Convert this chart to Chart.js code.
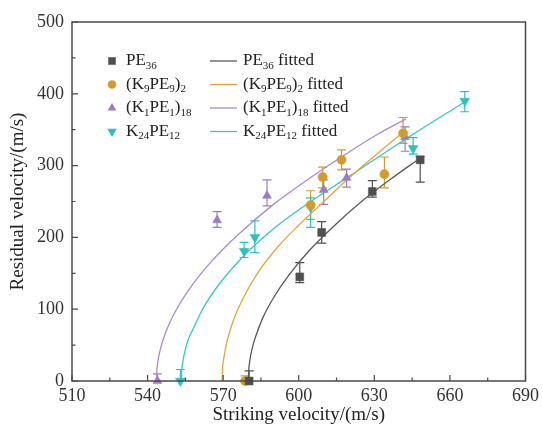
<!DOCTYPE html>
<html>
<head>
<meta charset="utf-8">
<script src="https://cdn.jsdelivr.net/npm/chart.js@4.4.1/dist/chart.umd.min.js"></script>
<style>
  html, body { margin: 0; padding: 0; background: #fff; }
  #wrap { width: 543px; height: 428px; }
</style>
</head>
<body>
<div id="wrap"><canvas id="chart" width="543" height="428"></canvas></div>
<script>
// --- Axis ticks ---
const xTicks = [510, 540, 570, 600, 630, 660, 690];
const xMinor = [525, 555, 585, 615, 645, 675];
const yTicks = [0, 100, 200, 300, 400, 500];
const yMinor = [50, 150, 250, 350, 450];

// --- Series names (_{..} = subscript) ---
const seriesNames = ['PE_{36}', '(K_{9}PE_{9})_{2}', '(K_{1}PE_{1})_{18}', 'K_{24}PE_{12}'];

// --- Measured points ---
const pe36X = [580.3, 600.4, 609.1, 629.2, 648.2];
const pe36Y = [0, 145, 207, 264, 308];
const pe36Up = [14, 20, 15, 15, 5];
const pe36Down = [14, 8, 15, 8, 31];

const k9X = [578.7, 604.7, 609.5, 617, 634, 641.4];
const k9Y = [0, 245, 284, 308, 288, 345];
const k9Up = [7, 20, 14, 14, 24, 22];
const k9Down = [7, 20, 15, 14, 19, 14];

const k1X = [543.9, 567.6, 587.4, 609.9, 619, 642.2];
const k1Y = [0, 224, 258, 266, 283, 340];
const k1Up = [10, 12, 22, 14, 12, 14];
const k1Down = [10, 10, 14, 20, 13, 20];

const k24X = [553, 578.3, 582.6, 604.7, 645.4, 665.9];
const k24Y = [0, 181, 200, 242, 324, 390];
const k24Up = [16, 12, 23, 13, 15, 13];
const k24Down = [16, 9, 21, 28, 8, 15];

// --- Fitted curves ---
const pe36FitX = [580, 580.1, 580.5, 581, 582, 583, 586, 590, 596, 604, 614, 626, 638, 648];
const pe36FitY = [0, 12, 26, 37, 52, 63, 90, 116, 147, 181, 216, 253, 285, 310];

const k9FitX = [569.6, 569.7, 570.1, 571, 572.3, 574, 578, 584, 592, 600, 610, 620, 632, 642];
const k9FitY = [0, 13, 28, 47, 65, 84, 116, 152, 188, 217, 250, 283, 319, 348];

const k1FitX = [543.5, 543.6, 544, 544.5, 545, 546, 548, 552, 558, 566, 576, 590, 605, 620, 632, 642.6];
const k1FitY = [0, 11, 25, 35, 43, 56, 75, 103, 135, 169, 204, 246, 284, 319, 345, 365];

const k24FitX = [553.4, 553.5, 554, 555, 556, 558, 562, 568, 577, 590, 604, 620, 642, 666];
const k24FitY = [0, 11, 27, 44, 56, 72, 101, 133, 170, 212, 248, 285, 336, 389];

// --- Styles ---
const markColors = ['#4f4f4f', '#d29b2e', '#9a7cc2', '#2cc0c0'];
const lineColors = ['#5a5a5a', '#e0a63c', '#a88bd2', '#35c6c6'];
const markStyles = ['rect', 'circle', 'triangle', 'triangle'];
const markRot = [0, 0, 0, 180];
const markRadius = [5.6, 4.6, 5.2, 5.6];
const serif = "'Liberation Serif', 'DejaVu Serif', serif";

const zip = (xs, ys) => xs.map((x, i) => ({ x: x, y: ys[i] }));

const pointSets = [
    { xs: pe36X, ys: pe36Y, up: pe36Up, down: pe36Down },
    { xs: k9X, ys: k9Y, up: k9Up, down: k9Down },
    { xs: k1X, ys: k1Y, up: k1Up, down: k1Down },
    { xs: k24X, ys: k24Y, up: k24Up, down: k24Down }
];
const fitSets = [
    zip(pe36FitX, pe36FitY),
    zip(k9FitX, k9FitY),
    zip(k1FitX, k1FitY),
    zip(k24FitX, k24FitY)
];

const datasets = [];
pointSets.forEach((s, i) => {
    datasets.push({
        label: seriesNames[i],
        data: zip(s.xs, s.ys),
        pointStyle: markStyles[i],
        rotation: markRot[i],
        pointRadius: markRadius[i],
        backgroundColor: markColors[i],
        borderColor: markColors[i],
        pointBorderWidth: 0.5,
        clip: false,
        errUp: s.up,
        errDown: s.down
    });
});
fitSets.forEach((d, i) => {
    datasets.push({
        label: seriesNames[i] + ' fitted',
        type: 'line',
        data: d,
        showLine: true,
        borderColor: lineColors[i],
        borderWidth: 1.3,
        pointRadius: 0,
        cubicInterpolationMode: 'monotone',
        fill: false
    });
});

// draw text with _{..} subscripts
function drawRich(ctx, str, x, y, size) {
    const parts = str.split(/(_\{[^}]*\})/).filter(p => p.length);
    let cx = x;
    parts.forEach(p => {
        if (p.startsWith('_{')) {
            const t = p.slice(2, -1);
            ctx.font = Math.round(size * 0.64) + 'px ' + serif;
            ctx.fillText(t, cx, y + size * 0.3);
            cx += ctx.measureText(t).width;
        } else {
            ctx.font = size + 'px ' + serif;
            ctx.fillText(p, cx, y);
            cx += ctx.measureText(p).width;
        }
    });
}

const frame = {
    id: 'frame',
    beforeDatasetsDraw(chart) {
        const { ctx, chartArea, scales: { x, y } } = chart;
        ctx.save();
        ctx.lineWidth = 1.2;
        chart.data.datasets.forEach((ds, i) => {
            if (!ds.errUp) return;
            ctx.strokeStyle = markColors[i];
            ds.data.forEach((p, j) => {
                const px = x.getPixelForValue(p.x);
                const top = y.getPixelForValue(p.y + ds.errUp[j]);
                const bot = Math.min(y.getPixelForValue(p.y - ds.errDown[j]), chartArea.bottom);
                ctx.beginPath();
                ctx.moveTo(px, top); ctx.lineTo(px, bot);
                ctx.moveTo(px - 4.5, top); ctx.lineTo(px + 4.5, top);
                if (bot < chartArea.bottom) { ctx.moveTo(px - 4.5, bot); ctx.lineTo(px + 4.5, bot); }
                ctx.stroke();
            });
        });
        ctx.restore();
    },
    afterDraw(chart) {
        const { ctx, chartArea: a, scales: { x, y } } = chart;
        ctx.save();
        // frame box
        ctx.strokeStyle = '#4a4a4a';
        ctx.lineWidth = 1.5;
        ctx.strokeRect(a.left, a.top, a.right - a.left, a.bottom - a.top);
        // inward ticks
        ctx.lineWidth = 1.2;
        ctx.beginPath();
        xTicks.forEach(v => { const p = x.getPixelForValue(v); ctx.moveTo(p, a.bottom); ctx.lineTo(p, a.bottom - 6); });
        xMinor.forEach(v => { const p = x.getPixelForValue(v); ctx.moveTo(p, a.bottom); ctx.lineTo(p, a.bottom - 3.5); });
        yTicks.forEach(v => { const p = y.getPixelForValue(v); ctx.moveTo(a.left, p); ctx.lineTo(a.left + 6, p); });
        yMinor.forEach(v => { const p = y.getPixelForValue(v); ctx.moveTo(a.left, p); ctx.lineTo(a.left + 3.5, p); });
        ctx.stroke();

        // legend, two columns
        const rows = [61, 84.5, 108, 131.5];
        ctx.textBaseline = 'middle';
        seriesNames.forEach((name, i) => {
            const ry = rows[i];
            ctx.fillStyle = markColors[i];
            ctx.strokeStyle = markColors[i];
            ctx.lineWidth = 0.5;
            Chart.helpers.drawPoint(ctx, { pointStyle: markStyles[i], radius: markRadius[i] - 0.6, rotation: markRot[i], borderWidth: 0.5 }, 112, ry);
            ctx.fillStyle = '#222';
            drawRich(ctx, name, 126, ry, 17);

            ctx.strokeStyle = lineColors[i];
            ctx.lineWidth = 1.3;
            ctx.beginPath();
            ctx.moveTo(210, ry); ctx.lineTo(237, ry);
            ctx.stroke();
            ctx.fillStyle = '#222';
            drawRich(ctx, name + ' fitted', 243, ry, 17);
        });
        ctx.restore();
    }
};

new Chart(document.getElementById('chart'), {
    type: 'scatter',
    data: { datasets: datasets },
    options: {
        responsive: false,
        animation: false,
        layout: { padding: { top: 22, right: 15, left: 0, bottom: 0 } },
        plugins: { legend: { display: false }, tooltip: { enabled: false } },
        scales: {
            x: {
                type: 'linear',
                min: 510,
                max: 690,
                afterBuildTicks: s => { s.ticks = xTicks.map(v => ({ value: v })); },
                afterFit: s => { s.height = 47; },
                grid: { display: false, drawTicks: false },
                border: { display: false },
                ticks: { color: '#333', padding: 4, maxRotation: 0, font: { family: serif, size: 18 } },
                title: { display: true, text: 'Striking velocity/(m/s)', color: '#222', padding: { top: 0, bottom: 2 }, font: { family: serif, size: 19 } }
            },
            y: {
                type: 'linear',
                min: 0,
                max: 500,
                afterBuildTicks: s => { s.ticks = yTicks.map(v => ({ value: v })); },
                afterFit: s => { s.width = 72; },
                grid: { display: false, drawTicks: false },
                border: { display: false },
                ticks: { color: '#333', padding: 8, font: { family: serif, size: 18 } },
                title: { display: true, text: 'Residual velocity/(m/s)', color: '#222', padding: { top: 7, bottom: 0 }, font: { family: serif, size: 19 } }
            }
        }
    },
    plugins: [frame]
});
</script>
</body>
</html>
